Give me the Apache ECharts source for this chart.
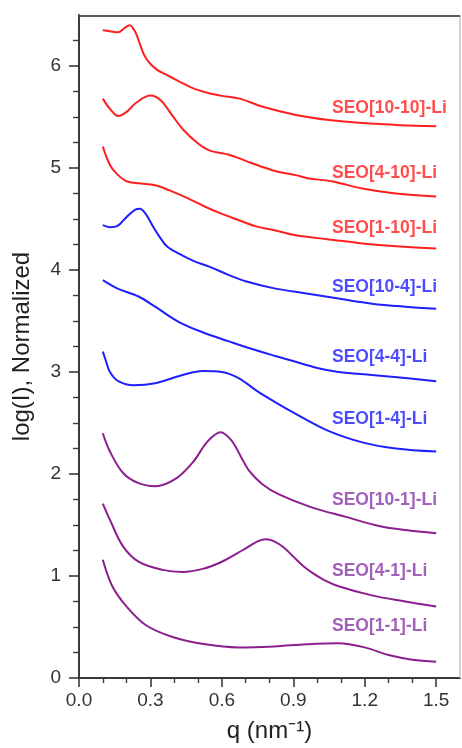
<!DOCTYPE html>
<html><head><meta charset="utf-8">
<script src="https://cdn.jsdelivr.net/npm/echarts@6/dist/echarts.min.js"></script>
<style>html,body{margin:0;padding:0;background:#fff}#c{width:462px;height:748px}</style>
</head><body><div id="c"></div>
<script>
// Data: [q (nm^-1), log(I) normalized]
const seo10_10 = [[0.10,6.35],[0.13,6.34],[0.165,6.33],[0.19,6.37],[0.212,6.40],[0.235,6.34],[0.255,6.22],[0.275,6.10],[0.30,6.02],[0.33,5.96],[0.37,5.91],[0.42,5.85],[0.48,5.78],[0.55,5.73],[0.62,5.70],[0.675,5.68],[0.772,5.60],[0.911,5.52],[1.05,5.47],[1.19,5.44],[1.35,5.42],[1.50,5.41]];
const seo4_10 = [[0.10,5.68],[0.13,5.58],[0.165,5.51],[0.20,5.55],[0.24,5.64],[0.30,5.71],[0.345,5.66],[0.39,5.52],[0.44,5.37],[0.50,5.24],[0.55,5.17],[0.63,5.13],[0.70,5.07],[0.77,5.01],[0.84,4.96],[0.91,4.93],[0.96,4.90],[1.06,4.87],[1.19,4.80],[1.33,4.75],[1.50,4.72]];
const seo1_10 = [[0.10,5.21],[0.13,5.03],[0.16,4.94],[0.20,4.87],[0.25,4.85],[0.32,4.83],[0.38,4.78],[0.46,4.70],[0.53,4.62],[0.60,4.55],[0.67,4.49],[0.74,4.43],[0.82,4.39],[0.91,4.34],[1.05,4.30],[1.19,4.26],[1.35,4.23],[1.50,4.21]];
const seo10_4 = [[0.10,4.44],[0.13,4.42],[0.16,4.43],[0.20,4.52],[0.235,4.59],[0.255,4.60],[0.28,4.55],[0.31,4.43],[0.34,4.32],[0.37,4.23],[0.42,4.16],[0.48,4.09],[0.55,4.03],[0.63,3.95],[0.70,3.89],[0.82,3.82],[0.955,3.77],[1.09,3.72],[1.23,3.67],[1.37,3.64],[1.50,3.62]];
const seo4_4 = [[0.10,3.90],[0.16,3.82],[0.25,3.74],[0.32,3.64],[0.42,3.49],[0.53,3.38],[0.63,3.30],[0.72,3.23],[0.82,3.16],[0.91,3.10],[1.00,3.04],[1.09,3.00],[1.23,2.97],[1.37,2.94],[1.50,2.91]];
const seo1_4 = [[0.10,3.20],[0.11,3.13],[0.13,3.00],[0.165,2.91],[0.23,2.87],[0.32,2.89],[0.435,2.97],[0.52,3.01],[0.60,3.00],[0.67,2.94],[0.75,2.81],[0.82,2.71],[0.91,2.59],[1.05,2.42],[1.19,2.31],[1.33,2.25],[1.50,2.22]];
const seo10_1 = [[0.10,2.40],[0.13,2.22],[0.185,2.01],[0.25,1.91],[0.32,1.88],[0.41,1.96],[0.48,2.12],[0.54,2.32],[0.595,2.41],[0.64,2.33],[0.68,2.17],[0.715,2.03],[0.77,1.90],[0.84,1.80],[0.98,1.67],[1.12,1.58],[1.26,1.49],[1.37,1.45],[1.50,1.42]];
const seo4_1 = [[0.10,1.71],[0.13,1.55],[0.185,1.29],[0.25,1.14],[0.35,1.06],[0.435,1.04],[0.52,1.07],[0.60,1.14],[0.685,1.25],[0.75,1.34],[0.786,1.36],[0.82,1.34],[0.86,1.28],[0.90,1.19],[0.94,1.10],[0.98,1.03],[1.03,0.96],[1.09,0.90],[1.23,0.81],[1.37,0.75],[1.50,0.70]];
const seo1_1 = [[0.10,1.16],[0.14,0.90],[0.20,0.70],[0.28,0.52],[0.39,0.405],[0.53,0.33],[0.67,0.30],[0.82,0.31],[0.955,0.33],[1.09,0.34],[1.20,0.30],[1.30,0.225],[1.40,0.18],[1.50,0.16]];

const seriesNames = ['SEO[10-10]-Li','SEO[4-10]-Li','SEO[1-10]-Li','SEO[10-4]-Li','SEO[4-4]-Li','SEO[1-4]-Li','SEO[10-1]-Li','SEO[4-1]-Li','SEO[1-1]-Li'];
const seriesData = [seo10_10, seo4_10, seo1_10, seo10_4, seo4_4, seo1_4, seo10_1, seo4_1, seo1_1];
const labelQ = 1.0625;
const labelY = [5.59, 4.95, 4.41, 3.83, 3.15, 2.54, 1.74, 1.05, 0.51];
const xTicks = [0.0, 0.3, 0.6, 0.9, 1.2, 1.5];
const yTicks = [0, 1, 2, 3, 4, 5, 6];
const xMax = 1.6, yMax = 6.5;

const RED = '#ff1f1f', BLUE = '#1f1fff', PURPLE = '#8c1f8f', PURPLE_T = '#8a38a8';
const lineColors = [RED, RED, RED, BLUE, BLUE, BLUE, PURPLE, PURPLE, PURPLE];
const textColors = [RED, RED, RED, BLUE, BLUE, BLUE, PURPLE_T, PURPLE_T, PURPLE_T];
const FONT = '"Liberation Sans", Arial, sans-serif';

const chart = echarts.init(document.getElementById('c'), null, {renderer: 'canvas'});
const series = [];
seriesData.forEach((d, i) => {
  series.push({
    type: 'line', name: seriesNames[i], data: d, showSymbol: false, smooth: 0.35,
    lineStyle: {color: lineColors[i], width: 2}, silent: true, z: 3
  });
  series.push({
    type: 'scatter', data: [[labelQ, labelY[i]]], symbolSize: 0, silent: true,
    label: {show: true, position: 'right', distance: 0, formatter: seriesNames[i],
      color: textColors[i], fontFamily: FONT, fontWeight: 'bold', fontSize: 17.5,
      align: 'left', verticalAlign: 'middle'}
  });
});
// right frame line of the plot (drawn through the axes' scales)
series.push({
  type: 'line', data: [[xMax, 0], [xMax, yMax]], showSymbol: false, silent: true, clip: false, z: 1,
  lineStyle: {color: '#c4c4c4', width: 1.5}
});

chart.setOption({
  animation: false,
  backgroundColor: '#fff',
  grid: {left: 79, right: 2, top: 15, bottom: 70, containLabel: false},
  xAxis: {
    type: 'value', min: 0, max: xMax, interval: 0.3,
    name: 'q (nm\u207B\u00B9)', nameLocation: 'middle', nameGap: 41,
    nameTextStyle: {fontFamily: FONT, fontSize: 24, color: '#222'},
    axisLine: {show: true, onZero: false, lineStyle: {color: '#3a3a3a', width: 2}},
    axisTick: {show: true, inside: false, length: 9, lineStyle: {color: '#3a3a3a', width: 1.6},
      customValues: xTicks},
    minorTick: {show: true, splitNumber: 3, length: 5, lineStyle: {color: '#3a3a3a', width: 1.4}},
    axisLabel: {margin: 13, fontFamily: FONT, fontSize: 19, color: '#333',
      customValues: xTicks, formatter: v => v.toFixed(1)},
    splitLine: {show: false}
  },
  yAxis: {
    type: 'value', min: 0, max: yMax, interval: 1,
    name: 'log(I), Normalized', nameLocation: 'middle', nameGap: 45,
    nameTextStyle: {fontFamily: FONT, fontSize: 24, color: '#222'},
    axisLine: {show: true, onZero: false, lineStyle: {color: '#3a3a3a', width: 2}},
    axisTick: {show: true, inside: false, length: 10, lineStyle: {color: '#3a3a3a', width: 1.6},
      customValues: yTicks},
    minorTick: {show: true, splitNumber: 4, length: 6, lineStyle: {color: '#3a3a3a', width: 1.4}},
    axisLabel: {margin: 18, fontFamily: FONT, fontSize: 19, color: '#333',
      customValues: yTicks, formatter: v => String(v)},
    splitLine: {show: false}
  },
  series: series
});

// top frame line, positioned from the axis scales
const pL = chart.convertToPixel({gridIndex: 0}, [0, yMax]);
const pR = chart.convertToPixel({gridIndex: 0}, [xMax, yMax]);
chart.setOption({
  graphic: [{
    type: 'line', z: 100, silent: true,
    shape: {x1: pL[0], y1: pL[1] + 1, x2: pR[0], y2: pR[1] + 1},
    style: {stroke: '#5a5a5a', lineWidth: 2}
  }]
});
</script></body></html>
